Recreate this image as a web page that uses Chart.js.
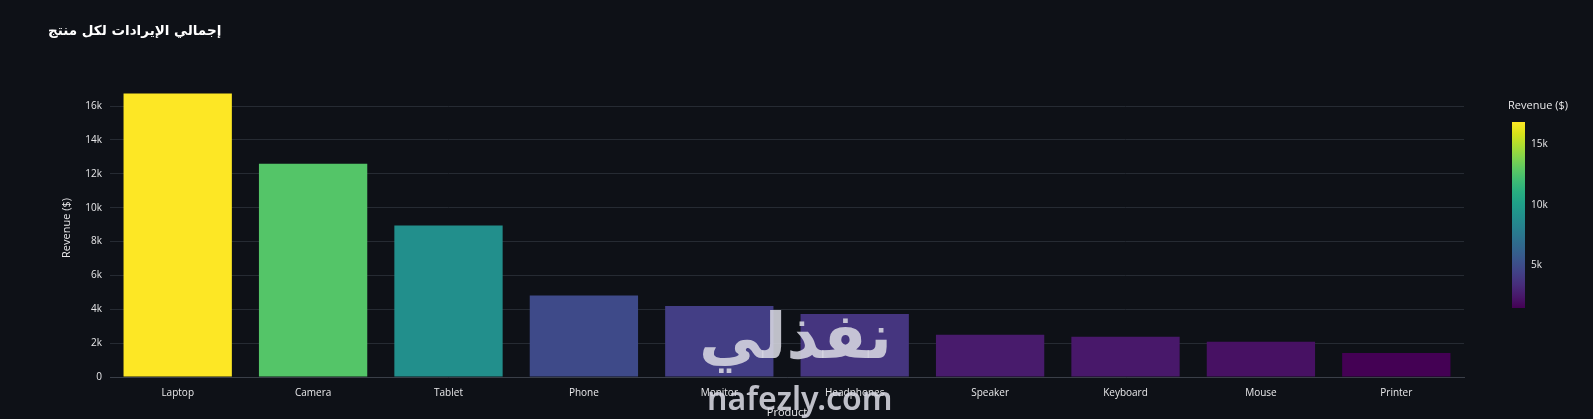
<!DOCTYPE html>
<html>
<head>
<meta charset="utf-8">
<script src="https://cdn.jsdelivr.net/npm/chart.js@4.4.1/dist/chart.umd.min.js"></script>
<style>
    html, body { margin: 0; padding: 0; background: #0e1117; }
    #wrap { position: relative; width: 1593px; height: 419px; }
    #title {
        position: absolute; left: 48px; top: 22px;
        font-family: "DejaVu Sans", sans-serif; font-weight: bold; font-size: 13.5px;
        color: #ffffff; direction: rtl;
    }
    .wm { position: absolute; color: rgba(215, 215, 225, 0.88); pointer-events: none; }
    #wm1 { left: 699px; top: 300px; font-family: "DejaVu Sans", sans-serif; font-weight: bold; font-size: 63px; direction: rtl; }
    #wm2 { left: 707px; top: 376px; font-family: "Noto Sans", sans-serif; font-weight: 600; font-size: 32px; }
</style>
</head>
<body>
<div id="wrap">
    <canvas id="revenueChart" width="1593" height="419"></canvas>
    <div id="title">إجمالي الإيرادات لكل منتج</div>
    <div class="wm" id="wm1">نفذلي</div>
    <div class="wm" id="wm2">nafezly.com</div>
</div>
<script>
// Data
const products = ['Laptop', 'Camera', 'Tablet', 'Phone', 'Monitor', 'Headphones', 'Speaker', 'Keyboard', 'Mouse', 'Printer'];
const revenue = [16740, 12590, 8950, 4820, 4190, 3720, 2500, 2380, 2080, 1420];
const yTicks = [0, 2000, 4000, 6000, 8000, 10000, 12000, 14000, 16000];
const colorbarTicks = [5000, 10000, 15000];

// Plotly's viridis scale
const viridis = ['#440154', '#48186a', '#472d7b', '#424086', '#3b528b', '#33638d', '#2c728e', '#26828e',
    '#21918c', '#1fa088', '#28ae80', '#3fbc73', '#5ec962', '#84d44b', '#addc30', '#d8e219', '#fde725'];

const vMin = Math.min(...revenue);
const vMax = Math.max(...revenue);

function hexToRgb(h) {
    return [parseInt(h.slice(1, 3), 16), parseInt(h.slice(3, 5), 16), parseInt(h.slice(5, 7), 16)];
}

function viridisColor(v) {
    let t = (v - vMin) / (vMax - vMin);
    t = Math.max(0, Math.min(1, t));
    const pos = t * (viridis.length - 1);
    const i = Math.min(Math.floor(pos), viridis.length - 2);
    const f = pos - i;
    const a = hexToRgb(viridis[i]);
    const b = hexToRgb(viridis[i + 1]);
    const c = a.map((x, k) => Math.round(x + (b[k] - x) * f));
    return 'rgb(' + c.join(',') + ')';
}

const kFormat = (v) => v === 0 ? '0' : (v / 1000) + 'k';

// Colorbar drawn at the right side
const colorbarPlugin = {
    id: 'colorbar',
    afterDraw(chart) {
        const ctx = chart.ctx;
        const x0 = 1512, x1 = 1525, top = 122, bottom = 308;
        const grad = ctx.createLinearGradient(0, bottom, 0, top);
        viridis.forEach((c, i) => grad.addColorStop(i / (viridis.length - 1), c));
        ctx.save();
        ctx.fillStyle = grad;
        ctx.fillRect(x0, top, x1 - x0, bottom - top);
        ctx.fillStyle = '#e8e8ea';
        ctx.font = '10px "Open Sans", sans-serif';
        ctx.textBaseline = 'middle';
        ctx.textAlign = 'left';
        colorbarTicks.forEach(v => {
            const y = bottom - (v - vMin) / (vMax - vMin) * (bottom - top);
            ctx.fillText(kFormat(v), x1 + 6, y + 1);
        });
        ctx.font = '11px "Open Sans", sans-serif';
        ctx.fillText('Revenue ($)', 1508, 106);
        ctx.restore();
    }
};

function renderBarChart() {
    const ctx = document.getElementById('revenueChart').getContext('2d');

    const barData = {
        labels: products,
        datasets: [{
            label: 'Revenue ($)',
            data: revenue,
            backgroundColor: revenue.map(viridisColor),
            borderWidth: 0,
            categoryPercentage: 0.8,
            barPercentage: 1.0
        }]
    };

    const barOptions = {
        responsive: false,
        animation: false,
        layout: { padding: { left: 0, right: 129, top: 79, bottom: 0 } },
        plugins: {
            legend: { display: false },
            tooltip: { enabled: false }
        },
        scales: {
            x: {
                grid: { display: false, drawTicks: false },
                border: { color: '#3a3f48', width: 1 },
                ticks: { color: '#e8e8ea', font: { family: 'Open Sans', size: 10 }, padding: 10, maxRotation: 0 },
                title: { display: true, text: 'Product', color: '#e8e8ea', font: { family: 'Open Sans', size: 11, lineHeight: 1.2 }, padding: { top: 0, bottom: 0 } },
                afterFit(scale) { scale.height = 42; }
            },
            y: {
                min: 0,
                max: 17600,
                afterBuildTicks(scale) { scale.ticks = yTicks.map(v => ({ value: v })); },
                grid: { color: '#262b33', lineWidth: 1, drawTicks: false },
                border: { display: false },
                ticks: { color: '#e8e8ea', font: { family: 'Open Sans', size: 10 }, padding: 8, callback: kFormat },
                title: { display: true, text: 'Revenue ($)', color: '#e8e8ea', font: { family: 'Open Sans', size: 11, lineHeight: 1.2 }, padding: { top: 60, bottom: 0 } },
                afterFit(scale) { scale.width = 110; }
            }
        }
    };

    new Chart(ctx, {
        type: 'bar',
        data: barData,
        options: barOptions,
        plugins: [colorbarPlugin]
    });
}

renderBarChart();
</script>
</body>
</html>
